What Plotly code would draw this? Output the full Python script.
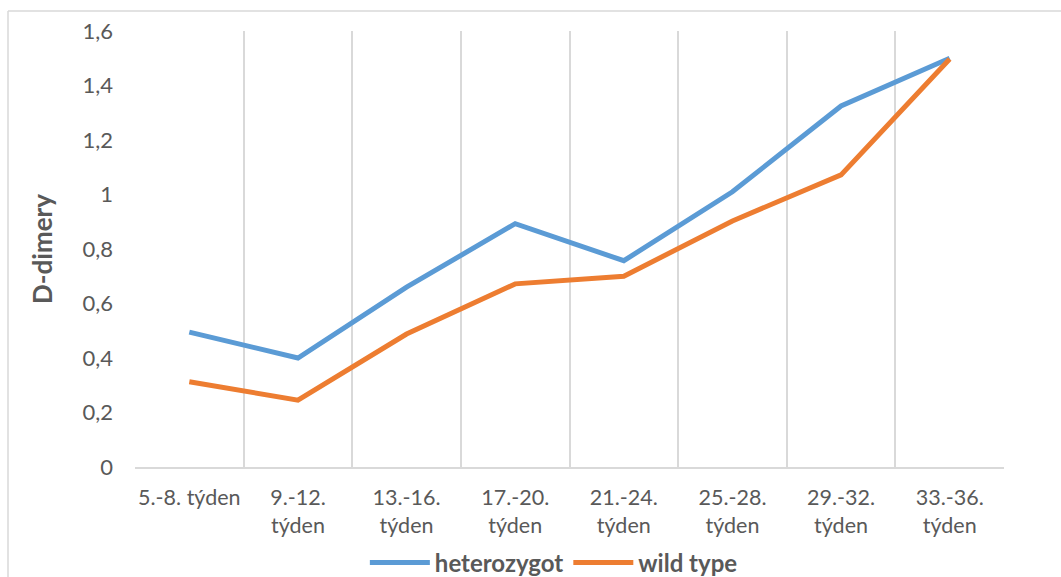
import plotly.graph_objects as go

# Gestational week ranges
categories = [
    "5.-8. týden",
    "9.-12.<br>týden",
    "13.-16.<br>týden",
    "17.-20.<br>týden",
    "21.-24.<br>týden",
    "25.-28.<br>týden",
    "29.-32.<br>týden",
    "33.-36.<br>týden",
]

# Mean D-dimer values per group
heterozygot = [0.495, 0.40, 0.66, 0.893, 0.757, 1.01, 1.325, 1.50]
wild_type = [0.313, 0.245, 0.488, 0.672, 0.70, 0.903, 1.072, 1.497]

y_ticks = [0, 0.2, 0.4, 0.6, 0.8, 1.0, 1.2, 1.4, 1.6]

text_gray = "#595959"
grid_gray = "#D9D9D9"
font_family = "Lato, Carlito, Calibri, sans-serif"

fig = go.Figure()
fig.add_trace(go.Scatter(
    x=categories, y=heterozygot, name="heterozygot", mode="lines",
    line=dict(color="#5B9BD5", width=5),
))
fig.add_trace(go.Scatter(
    x=categories, y=wild_type, name="wild type", mode="lines",
    line=dict(color="#ED7D31", width=5),
))

W, H = 1061, 577
L, T, R, B = 135, 31, 1004, 467

fig.update_layout(
    width=W, height=H,
    margin=dict(l=L, t=T, r=W - R, b=H - B, autoexpand=False),
    paper_bgcolor="white", plot_bgcolor="white",
    separators=", ",
    font=dict(family=font_family, size=22, color=text_gray),
    showlegend=True,
    legend=dict(
        orientation="h", x=0.482, xanchor="center", y=(B - 563) / (B - T), yanchor="middle",
        font=dict(family=font_family, size=24, color=text_gray, weight="bold"),
        itemwidth=60, tracegroupgap=0, bgcolor="rgba(0,0,0,0)",
    ),
    xaxis=dict(
        type="category", tickson="boundaries", showgrid=True,
        gridcolor=grid_gray, gridwidth=1.5,
        showline=True, linecolor=grid_gray, linewidth=1.5,
        ticks="", range=[-0.5, 7.5], fixedrange=True, automargin=False,
        tickangle=0, ticklabelstandoff=10,
        tickfont=dict(family=font_family, size=21.5, color=text_gray),
    ),
    yaxis=dict(
        range=[0, 1.6], tickvals=y_ticks, showgrid=False, zeroline=False,
        showline=False, ticks="", ticklabelstandoff=21, automargin=False,
        tickfont=dict(family=font_family, size=22, color=text_gray),
        title=dict(text="D-dimery", standoff=22,
                   font=dict(family=font_family, size=26, color=text_gray, weight="bold")),
    ),
    shapes=[
        dict(type="line", xref="paper", yref="paper",
             x0=(8 - L) / (R - L), x1=(1100 - L) / (R - L),
             y0=(B - 11) / (B - T), y1=(B - 11) / (B - T),
             line=dict(color=grid_gray, width=1.5)),
        dict(type="line", xref="paper", yref="paper",
             x0=(8 - L) / (R - L), x1=(8 - L) / (R - L),
             y0=(B - 11) / (B - T), y1=(B - 620) / (B - T),
             line=dict(color=grid_gray, width=1.5)),
    ],
)

fig.write_html("out.html")
